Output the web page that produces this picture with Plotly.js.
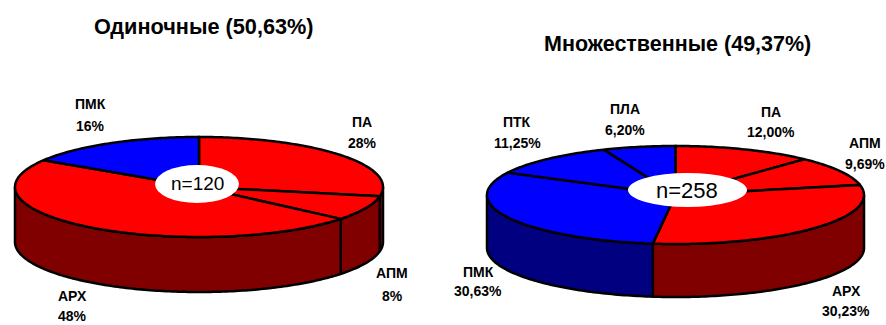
<!DOCTYPE html>
<html>
<head>
<meta charset="utf-8">
<script src="https://cdn.plot.ly/plotly-3.0.1.min.js"></script>
<style>html,body{margin:0;padding:0;background:#fff}#chart{width:886px;height:325px}</style>
</head>
<body>
<div id="chart"></div>
<script>
// Share of each category, percent, clockwise from twelve o'clock
const singleLabels = ['ПА', 'АПМ', 'АРХ', 'ПМК'];
const singleValues = [28, 8, 48, 16];
const singleTop = ['#ff0000', '#ff0000', '#ff0000', '#0000ff'];
const singleSide = ['#800000', '#800000', '#800000', '#000080'];

const multipleLabels = ['ПА', 'АПМ', 'АРХ', 'ПМК', 'ПТК', 'ПЛА'];
const multipleValues = [12.00, 9.69, 30.23, 30.63, 11.25, 6.20];
const multipleTop = ['#ff0000', '#ff0000', '#ff0000', '#0000ff', '#0000ff', '#0000ff'];
const multipleSide = ['#800000', '#800000', '#800000', '#000080', '#000080', '#000080'];

const FONT = '"Liberation Sans", Arial, sans-serif';
const traces = [];
const annotations = [];
const shapes = [];

// One tilted disc: side walls first, then the top slices over them
function disc(values, topColors, sideColors, g) {
  const point = (deg, drop) => {
    const a = deg * Math.PI / 180;
    return [g.cx + g.rx * Math.sin(a), g.cy - g.ry * Math.cos(a) + drop];
  };
  const arc = (from, to, drop) => {
    const pts = [];
    const n = Math.max(2, Math.ceil(Math.abs(to - from)));
    for (let i = 0; i <= n; i++) pts.push(point(from + (to - from) * i / n, drop));
    return pts;
  };
  const add = (pts, fill) => traces.push({
    type: 'scatter', mode: 'lines', fill: 'toself', fillcolor: fill,
    x: pts.map(p => p[0]), y: pts.map(p => p[1]),
    line: {color: '#000', width: 2.5, simplify: false},
    hoverinfo: 'skip', showlegend: false
  });

  let start = 0;
  const spans = values.map(v => {
    const span = [start, start + v * 3.6];
    start = span[1];
    return span;
  });
  spans.forEach((s, i) => {
    const from = Math.max(s[0], 90), to = Math.min(s[1], 270);
    if (to > from) {
      add([...arc(from, to, 0), ...arc(to, from, g.depth), point(from, 0)], sideColors[i]);
    }
  });
  spans.forEach((s, i) => {
    add([[g.cx, g.cy], ...arc(s[0], s[1], 0), [g.cx, g.cy]], topColors[i]);
  });

  // White hub with the sample size
  shapes.push({
    type: 'circle', xref: 'x', yref: 'y', layer: 'above',
    x0: g.hub[0] - g.hub[2], x1: g.hub[0] + g.hub[2],
    y0: g.hub[1] - g.hub[3], y1: g.hub[1] + g.hub[3],
    fillcolor: '#fff', line: {width: 0}
  });
}

function text(str, x, y, size, bold) {
  annotations.push({
    text: bold ? '<b>' + str + '</b>' : str,
    x, y, xref: 'x', yref: 'y', xanchor: 'center', yanchor: 'middle',
    showarrow: false, font: {family: FONT, size, color: '#000'}
  });
}

// Category name above its percentage
function labels(names, values, digits, spots) {
  names.forEach((name, i) => {
    const [x, y1, y2] = spots[i];
    text(name, x, y1, 14, true);
    text(values[i].toFixed(digits).replace('.', ',') + '%', x, y2, 14, true);
  });
}

disc(singleValues, singleTop, singleSide,
  {cx: 199, cy: 187, rx: 184, ry: 50, depth: 55, hub: [197, 184, 42, 19]});
disc(multipleValues, multipleTop, multipleSide,
  {cx: 675.5, cy: 195, rx: 188.5, ry: 49, depth: 53, hub: [687.5, 190, 59.5, 17]});

labels(singleLabels, singleValues, 0, [
  [362, 122, 143], [392, 273, 296], [72, 296, 316], [90, 104, 126]
]);
labels(multipleLabels, multipleValues, 2, [
  [771, 112, 132], [865, 143, 164], [846, 291, 311],
  [478, 272, 291], [517, 122, 143], [625, 109, 130]
]);

text('n=120', 197, 183, 19, false);
text('n=258', 687, 190, 22, false);
text('Одиночные (50,63%)', 204, 26, 21.7, true);
text('Множественные (49,37%)', 677, 44, 21.5, true);

Plotly.newPlot('chart', traces, {
  width: 886, height: 325,
  margin: {l: 0, r: 0, t: 0, b: 0},
  paper_bgcolor: '#fff', plot_bgcolor: '#fff',
  xaxis: {range: [0, 886], visible: false, fixedrange: true},
  yaxis: {range: [325, 0], visible: false, fixedrange: true},
  showlegend: false,
  shapes, annotations
}, {displayModeBar: false, staticPlot: true});
</script>
</body>
</html>
